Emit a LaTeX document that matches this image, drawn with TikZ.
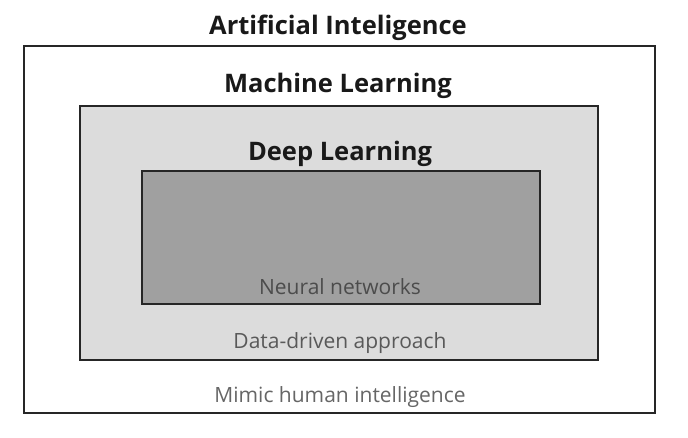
\documentclass[tikz,border=0pt]{standalone}
\usepackage{fontspec}
\setmainfont{Open Sans}
\definecolor{mlfill}{HTML}{DCDCDC}
\definecolor{dlfill}{HTML}{A0A0A0}
\begin{document}
\begin{tikzpicture}[x=1pt,y=-1pt,
  box/.style={draw=black!85,line width=1.6pt},
  title/.style={font=\bfseries\fontsize{25.5}{30}\selectfont,text=black!90,inner sep=0pt},
  sub/.style={font=\fontsize{21}{25}\selectfont,inner sep=0pt}]
\useasboundingbox (0,0) rectangle (688,437);
\fill[white] (0,0) rectangle (688,437);
\draw[box,fill=white] (24,46) rectangle (655,413);
\draw[box,fill=mlfill] (80,106) rectangle (598,360);
\draw[box,fill=dlfill] (142,171) rectangle (540,304);
\node[title] (ai) at (338,28) {Artificial Inteligence};
\node[title] (ml) at (338,86) {Machine Learning};
\node[title] (dl) at (340,154) {Deep Learning};
\node[sub,text=black!70] (nn) at (340,287) {Neural networks};
\node[sub,text=black!65] (dd) at (340,343) {Data-driven approach};
\node[sub,text=black!60] (mh) at (340,397) {Mimic human intelligence};
\end{tikzpicture}
\end{document}
